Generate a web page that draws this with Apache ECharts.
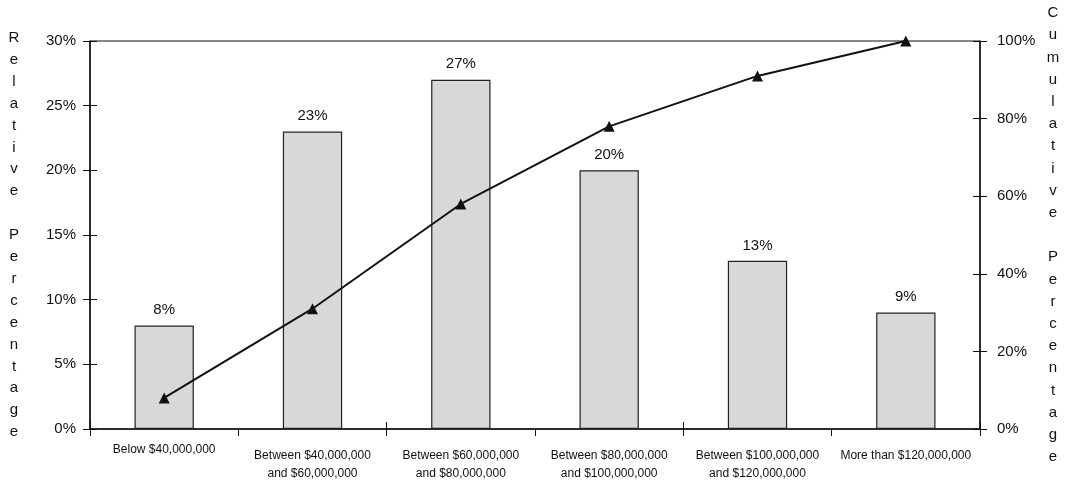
<!DOCTYPE html>
<html>
<head>
<meta charset="utf-8">
<script src="https://cdn.jsdelivr.net/npm/echarts@6/dist/echarts.min.js"></script>
<style>
html,body{margin:0;padding:0;background:#fff;}
#chart{width:1072px;height:485px;}
</style>
</head>
<body>
<div id="chart"></div>
<script>
const categories = [
  'Below $40,000,000',
  'Between $40,000,000\nand $60,000,000',
  'Between $60,000,000\nand $80,000,000',
  'Between $80,000,000\nand $100,000,000',
  'Between $100,000,000\nand $120,000,000',
  'More than $120,000,000'
];
const relativePct = [8, 23, 27, 20, 13, 9];
const cumulativePct = [8, 31, 58, 78, 91, 100];
const leftTicks = {min: 0, max: 30, interval: 5};
const rightTicks = {min: 0, max: 100, interval: 20};
const leftName = 'Relative Percentage';
const rightName = 'Cumulative Percentage';

const FONT = "'Liberation Sans', Arial, Helvetica, sans-serif";
const INK = '#111';
const vert = s => s.split('').map(c => c === ' ' ? '' : c).join('\n');

const catData = categories.map((c, i) => i === 0 ? {value: c, textStyle: {lineHeight: 6}} : c);
const hiddenLine = {show: true, lineStyle: {color: 'rgba(0,0,0,0)', width: 0}};

const chart = echarts.init(document.getElementById('chart'));
chart.setOption({
  animation: false,
  backgroundColor: '#fff',
  grid: {left: 90, right: 92, top: 41, bottom: 56, containLabel: false, outerBoundsMode: 'none',
         show: true, borderColor: INK, borderWidth: 1, backgroundColor: 'transparent'},
  xAxis: [{
    type: 'category', data: catData, position: 'bottom',
    axisLine: {lineStyle: {color: INK, width: 1.5}},
    axisTick: {show: true, length: 7, lineStyle: {color: INK, width: 1}},
    axisLabel: {interval: 0, color: INK, fontFamily: FONT, fontSize: 12, lineHeight: 18, margin: 18}
  }, {
    type: 'category', data: catData, position: 'bottom',
    axisLine: hiddenLine,
    axisTick: {show: true, inside: true, length: 7, lineStyle: {color: INK, width: 1}},
    axisLabel: {show: false}
  }],
  yAxis: [{
    type: 'value', position: 'left', ...leftTicks,
    name: vert(leftName), nameLocation: 'middle', nameRotate: 0, nameGap: 76,
    nameTextStyle: {color: INK, fontFamily: FONT, fontSize: 15, lineHeight: 21.9, align: 'center', verticalAlign: 'middle', padding: [4, 0, 0, 0]},
    axisLine: {show: true, lineStyle: {color: INK, width: 1.5}},
    axisTick: {show: true, length: 7, lineStyle: {color: INK}},
    axisLabel: {formatter: '{value}%', color: INK, fontFamily: FONT, fontSize: 15, margin: 14},
    splitLine: {show: false}
  }, {
    type: 'value', position: 'right', ...rightTicks,
    name: vert(rightName), nameLocation: 'middle', nameRotate: 0, nameGap: 73,
    nameTextStyle: {color: INK, fontFamily: FONT, fontSize: 15, lineHeight: 22.2, align: 'center', verticalAlign: 'middle', padding: [24, 0, 0, 0]},
    axisLine: {show: true, lineStyle: {color: INK, width: 1.5}},
    axisTick: {show: true, length: 7, lineStyle: {color: INK}},
    axisLabel: {formatter: '{value}%', color: INK, fontFamily: FONT, fontSize: 15, margin: 17},
    splitLine: {show: false}
  }, {
    type: 'value', position: 'left', offset: 0, ...leftTicks,
    axisLine: hiddenLine,
    axisTick: {show: true, inside: true, length: 7, lineStyle: {color: INK}},
    axisLabel: {show: false}, splitLine: {show: false}
  }, {
    type: 'value', position: 'right', offset: 0, ...rightTicks,
    axisLine: hiddenLine,
    axisTick: {show: true, inside: true, length: 7, lineStyle: {color: INK}},
    axisLabel: {show: false}, splitLine: {show: false}
  }],
  series: [{
    name: 'Relative Percentage', type: 'bar', xAxisIndex: 0, yAxisIndex: 0,
    data: relativePct, barCategoryGap: '60%',
    itemStyle: {color: '#d8d8d8', borderColor: '#222', borderWidth: 1.2},
    label: {show: true, position: 'top', distance: 8, formatter: '{c}%', color: INK, fontFamily: FONT, fontSize: 15}
  }, {
    name: 'Cumulative Percentage', type: 'line', xAxisIndex: 0, yAxisIndex: 1,
    data: cumulativePct, symbol: 'triangle', symbolSize: 11,
    lineStyle: {color: INK, width: 2},
    itemStyle: {color: INK}
  }]
});
</script>
</body>
</html>
